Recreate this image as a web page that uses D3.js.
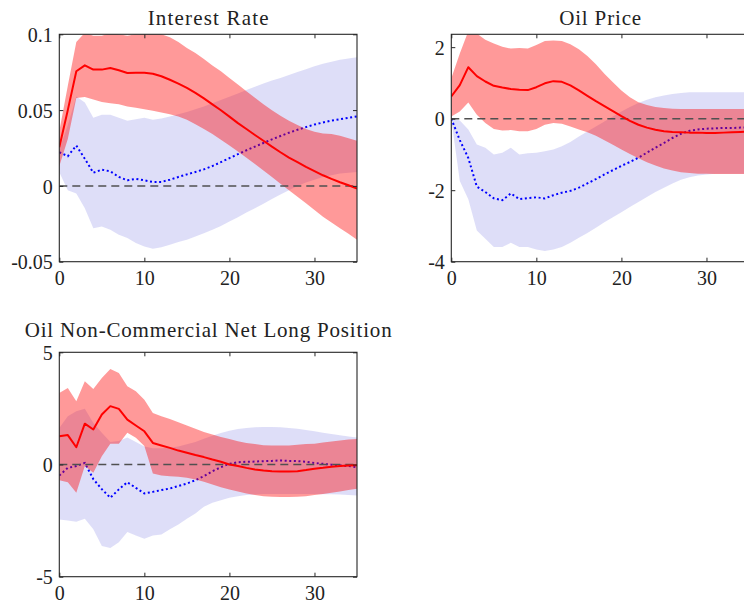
<!DOCTYPE html>
<html>
<head>
<meta charset="utf-8">
<script src="https://cdn.jsdelivr.net/npm/d3@7"></script>
<style>
  html, body { margin: 0; padding: 0; background: #fff; }
  svg { display: block; }
</style>
</head>
<body>
<svg id="chart" width="744" height="607"></svg>
<script>
// ---------------- DATA ----------------
const horizons = [0,1,2,3,4,5,6,7,8,9,10,11,12,13,14,15,16,17,18,19,20,21,22,23,24,25,26,27,28,29,30,31,32,33,34,35];
const xTickValues = [0, 10, 20, 30];
const xTickLabels = ["0", "10", "20", "30"];

const panelTitles = ["Interest Rate", "Oil Price", "Oil Non-Commercial Net Long Position"];

// Interest Rate
const irRedMedian = [0.0255,0.05,0.0756,0.0795,0.0767,0.0767,0.0778,0.0763,0.0745,0.0747,0.0747,0.074,0.0723,0.070,0.0675,0.0647,0.0614,0.0577,0.0538,0.0499,0.0457,0.0414,0.0375,0.0336,0.0298,0.0259,0.0222,0.0187,0.0157,0.0126,0.0098,0.007,0.0046,0.0024,0.0004,-0.0017];
const irRedUpper = [0.036,0.066,0.095,0.101,0.099,0.099,0.101,0.1,0.099,0.1,0.1,0.101,0.1,0.098,0.095,0.091,0.0876,0.0837,0.0795,0.0756,0.0712,0.0669,0.0625,0.0582,0.0538,0.0499,0.0462,0.0429,0.0401,0.0375,0.0357,0.0346,0.0342,0.0331,0.0314,0.0298];
const irRedLower = [0.013,0.031,0.058,0.0586,0.057,0.0553,0.0545,0.0538,0.0523,0.0516,0.0505,0.0495,0.0484,0.0473,0.0458,0.0436,0.0407,0.0375,0.0342,0.0305,0.0266,0.0227,0.0185,0.0144,0.0102,0.0059,0.0015,-0.0028,-0.0072,-0.0115,-0.0159,-0.0203,-0.0242,-0.0279,-0.0316,-0.0355];
const irBlueMedian = [0.0222,0.0196,0.0266,0.0179,0.0087,0.0107,0.0096,0.0059,0.0037,0.0046,0.0037,0.0026,0.0026,0.0041,0.0059,0.0076,0.0092,0.0109,0.0131,0.0157,0.0183,0.0209,0.0235,0.0259,0.0283,0.0307,0.0329,0.0351,0.037,0.0388,0.0405,0.0418,0.0431,0.044,0.0449,0.0458];
const irBlueUpper = [0.024,0.04,0.059,0.055,0.045,0.047,0.047,0.045,0.043,0.044,0.045,0.0436,0.0444,0.0458,0.0473,0.0488,0.0505,0.0523,0.0545,0.0566,0.0588,0.061,0.0632,0.0654,0.0675,0.0695,0.0712,0.0732,0.0752,0.0769,0.0789,0.0806,0.0819,0.0832,0.0841,0.0848];
const irBlueLower = [0.009,-0.0028,-0.005,-0.0148,-0.0279,-0.0268,-0.029,-0.0322,-0.0344,-0.0377,-0.0399,-0.0414,-0.0405,-0.0388,-0.037,-0.0355,-0.0333,-0.0312,-0.029,-0.0264,-0.0235,-0.0207,-0.0176,-0.0148,-0.0118,-0.0087,-0.0057,-0.0028,0,0.0022,0.0041,0.0059,0.007,0.0081,0.0087,0.0092];
const irYDomain = [-0.05, 0.1];
const irYTicks = [-0.05, 0, 0.05, 0.1];
const irYLabels = ["-0.05", "0", "0.05", "0.1"];

// Oil Price
const oilRedMedian = [0.62,0.94,1.44,1.19,1.04,0.92,0.87,0.83,0.81,0.80,0.88,0.99,1.05,1.03,0.93,0.79,0.64,0.49,0.35,0.21,0.07,-0.06,-0.17,-0.25,-0.31,-0.35,-0.37,-0.38,-0.39,-0.39,-0.4,-0.4,-0.39,-0.38,-0.37,-0.36];
const oilRedUpper = [1.13,1.82,2.45,2.38,2.21,2.1,2.01,1.96,1.98,1.96,2.06,2.17,2.19,2.17,2.08,1.94,1.75,1.52,1.26,1.02,0.79,0.6,0.46,0.38,0.33,0.3,0.28,0.27,0.27,0.27,0.27,0.27,0.27,0.27,0.27,0.27];
const oilRedLower = [0.06,0.2,0.45,0.11,-0.12,-0.29,-0.33,-0.32,-0.35,-0.35,-0.29,-0.17,-0.12,-0.14,-0.22,-0.3,-0.38,-0.48,-0.6,-0.73,-0.86,-0.99,-1.11,-1.22,-1.31,-1.39,-1.45,-1.5,-1.52,-1.54,-1.54,-1.55,-1.55,-1.55,-1.55,-1.55];
const oilBlueMedian = [0,-0.6,-1.1,-1.9,-2.05,-2.23,-2.28,-2.09,-2.25,-2.22,-2.2,-2.23,-2.14,-2.07,-2.02,-1.93,-1.81,-1.69,-1.56,-1.44,-1.32,-1.21,-1.09,-0.95,-0.81,-0.68,-0.54,-0.42,-0.34,-0.3,-0.28,-0.27,-0.26,-0.26,-0.25,-0.25];
const oilBlueUpper = [0.02,-0.05,-0.3,-0.72,-0.81,-1.0,-0.95,-0.81,-1.0,-0.97,-0.95,-0.91,-0.86,-0.77,-0.65,-0.5,-0.36,-0.22,-0.08,0.06,0.2,0.33,0.44,0.53,0.6,0.65,0.69,0.72,0.74,0.74,0.74,0.74,0.74,0.74,0.74,0.74];
const oilBlueLower = [-0.02,-1.74,-2.25,-3.13,-3.36,-3.59,-3.59,-3.47,-3.59,-3.59,-3.66,-3.7,-3.66,-3.59,-3.47,-3.33,-3.2,-3.05,-2.9,-2.76,-2.62,-2.47,-2.33,-2.19,-2.05,-1.93,-1.81,-1.71,-1.64,-1.59,-1.56,-1.54,-1.54,-1.54,-1.54,-1.54];
const oilYDomain = [-4, 2.36];
const oilYTicks = [-4, -2, 0, 2];
const oilYLabels = ["-4", "-2", "0", "2"];

// Oil Non-Commercial Net Long Position
const ncRedMedian = [1.26,1.31,0.77,1.82,1.56,2.23,2.6,2.48,2.0,1.74,1.48,0.96,0.85,0.74,0.62,0.52,0.42,0.33,0.22,0.12,0,-0.07,-0.15,-0.22,-0.27,-0.3,-0.31,-0.31,-0.3,-0.25,-0.19,-0.15,-0.1,-0.07,-0.04,-0.03];
const ncRedUpper = [3.19,3.41,2.82,3.71,3.37,3.86,4.26,4.08,3.49,3.26,2.89,2.3,2.15,2.03,1.88,1.74,1.59,1.45,1.34,1.23,1.14,1.04,0.96,0.91,0.86,0.85,0.85,0.85,0.88,0.91,0.93,0.98,1.02,1.07,1.11,1.14];
const ncRedLower = [-0.7,-0.79,-1.26,-0.07,-0.37,0.37,0.93,0.93,1.41,1.19,0.82,-0.4,-0.49,-0.52,-0.55,-0.59,-0.67,-0.77,-0.89,-1.01,-1.11,-1.2,-1.29,-1.36,-1.41,-1.44,-1.45,-1.45,-1.44,-1.41,-1.36,-1.32,-1.26,-1.2,-1.14,-1.08];
const ncBlueMedian = [-0.49,-0.15,-0.07,0.07,-0.65,-1.1,-1.48,-1.11,-0.79,-1.04,-1.29,-1.22,-1.14,-1.07,-0.96,-0.85,-0.7,-0.52,-0.3,-0.12,0.03,0.1,0.12,0.13,0.15,0.16,0.18,0.16,0.15,0.12,0.07,0.03,-0.01,-0.04,-0.07,-0.12];
const ncBlueUpper = [1.63,2.15,2.37,2.48,1.85,1.41,1.0,1.05,1.2,1.0,0.8,0.72,0.72,0.75,0.8,0.9,1.0,1.15,1.28,1.4,1.5,1.58,1.63,1.66,1.67,1.67,1.66,1.63,1.59,1.54,1.48,1.42,1.36,1.3,1.25,1.2];
const ncBlueLower = [-2.45,-2.49,-2.55,-2.42,-2.89,-3.63,-3.72,-3.46,-3.01,-3.16,-3.31,-3.16,-3.12,-2.89,-2.67,-2.42,-2.18,-1.88,-1.71,-1.59,-1.48,-1.41,-1.36,-1.34,-1.32,-1.32,-1.32,-1.32,-1.32,-1.32,-1.32,-1.33,-1.33,-1.34,-1.36,-1.38];
const ncYDomain = [-5, 5];
const ncYTicks = [-5, 0, 5];
const ncYLabels = ["-5", "0", "5"];

// ---------------- DRAWING ----------------
const svg = d3.select("#chart");
svg.append("rect").attr("width", 744).attr("height", 607).attr("fill", "#fff");

const FONT = "Liberation Serif, Times New Roman, serif";
const AXIS_COLOR = "#262626";
const TEXT_COLOR = "#222";
const TICK_FONT = 20;
const TITLE_FONT = 21;

function drawPanel(idx, box, title, titleLen, yDomain, yTicks, yLabels, s) {
  const x = d3.scaleLinear().domain([0, 35]).range([box.left, box.right]);
  const y = d3.scaleLinear().domain(yDomain).range([box.bottom, box.top]);
  const g = svg.append("g");

  const clipId = "clip" + idx;
  svg.append("clipPath").attr("id", clipId)
    .append("rect")
    .attr("x", box.left).attr("y", box.top)
    .attr("width", box.right - box.left).attr("height", box.bottom - box.top);

  const plot = g.append("g").attr("clip-path", `url(#${clipId})`);

  const rows = horizons.map((h, i) => ({
    h, rm: s.redMedian[i], ru: s.redUpper[i], rl: s.redLower[i],
    bm: s.blueMedian[i], bu: s.blueUpper[i], bl: s.blueLower[i]
  }));

  const blueArea = d3.area().x(d => x(d.h)).y0(d => y(d.bl)).y1(d => y(d.bu));
  const redArea = d3.area().x(d => x(d.h)).y0(d => y(d.rl)).y1(d => y(d.ru));
  const blueLine = d3.line().x(d => x(d.h)).y(d => y(d.bm));
  const redLine = d3.line().x(d => x(d.h)).y(d => y(d.rm));

  plot.append("path").datum(rows).attr("d", blueArea)
    .attr("fill", "#6464dc").attr("fill-opacity", 0.21).attr("stroke", "none");
  plot.append("path").datum(rows).attr("d", blueLine)
    .attr("fill", "none").attr("stroke", "#0000ff").attr("stroke-width", 2)
    .attr("stroke-dasharray", "2,2.6");
  plot.append("path").datum(rows).attr("d", redArea)
    .attr("fill", "#ff0000").attr("fill-opacity", 0.4).attr("stroke", "none");
  plot.append("line")
    .attr("x1", x(0)).attr("x2", x(35)).attr("y1", y(0)).attr("y2", y(0))
    .attr("stroke", "#505050").attr("stroke-width", 1.5).attr("stroke-dasharray", "8,5");
  plot.append("path").datum(rows).attr("d", redLine)
    .attr("fill", "none").attr("stroke", "#ff0000").attr("stroke-width", 2)
    .attr("stroke-linejoin", "round");

  // Axes (inward ticks on all four sides)
  const tick = 4;
  const bottomAxis = d3.axisBottom(x).tickValues(xTickValues)
    .tickFormat((d, i) => xTickLabels[i]).tickSizeInner(-tick).tickSizeOuter(0).tickPadding(0);
  const topAxis = d3.axisTop(x).tickValues(xTickValues).tickFormat("").tickSizeInner(-tick).tickSizeOuter(0);
  const leftAxis = d3.axisLeft(y).tickValues(yTicks)
    .tickFormat((d, i) => yLabels[i]).tickSizeInner(-tick).tickSizeOuter(0).tickPadding(0);
  const rightAxis = d3.axisRight(y).tickValues(yTicks).tickFormat("").tickSizeInner(-tick).tickSizeOuter(0);

  const gb = g.append("g").attr("transform", `translate(0,${box.bottom})`).call(bottomAxis);
  const gt = g.append("g").attr("transform", `translate(0,${box.top})`).call(topAxis);
  const gl = g.append("g").attr("transform", `translate(${box.left},0)`).call(leftAxis);
  const gr = g.append("g").attr("transform", `translate(${box.right},0)`).call(rightAxis);

  [gb, gt, gl, gr].forEach(a => {
    a.attr("font-family", FONT).attr("font-size", TICK_FONT);
    a.select(".domain").remove();
    a.selectAll(".tick line").attr("stroke", AXIS_COLOR).attr("stroke-width", 1);
  });
  gb.selectAll(".tick text")
    .attr("y", 23.5).attr("dy", null).attr("fill", TEXT_COLOR);
  gl.selectAll(".tick text")
    .attr("x", -6.5).attr("dy", "0.36em").attr("fill", TEXT_COLOR);

  // box
  g.append("rect")
    .attr("x", box.left).attr("y", box.top)
    .attr("width", box.right - box.left).attr("height", box.bottom - box.top)
    .attr("fill", "none").attr("stroke", AXIS_COLOR).attr("stroke-width", 1.1);

  // title
  g.append("text")
    .attr("x", (box.left + box.right) / 2).attr("y", box.titleY)
    .attr("text-anchor", "middle")
    .attr("font-family", FONT).attr("font-size", TITLE_FONT).attr("fill", TEXT_COLOR)
    .attr("textLength", titleLen).attr("lengthAdjust", "spacing")
    .text(title);
}

drawPanel(0, {left: 59.3, right: 357, top: 34.3, bottom: 261.7, titleY: 25}, panelTitles[0], 121,
  irYDomain, irYTicks, irYLabels,
  {redMedian: irRedMedian, redUpper: irRedUpper, redLower: irRedLower,
   blueMedian: irBlueMedian, blueUpper: irBlueUpper, blueLower: irBlueLower});

drawPanel(1, {left: 451.3, right: 749, top: 34.3, bottom: 261.7, titleY: 25}, panelTitles[1], 82,
  oilYDomain, oilYTicks, oilYLabels,
  {redMedian: oilRedMedian, redUpper: oilRedUpper, redLower: oilRedLower,
   blueMedian: oilBlueMedian, blueUpper: oilBlueUpper, blueLower: oilBlueLower});

drawPanel(2, {left: 59.3, right: 357, top: 352.3, bottom: 576.7, titleY: 337}, panelTitles[2], 367,
  ncYDomain, ncYTicks, ncYLabels,
  {redMedian: ncRedMedian, redUpper: ncRedUpper, redLower: ncRedLower,
   blueMedian: ncBlueMedian, blueUpper: ncBlueUpper, blueLower: ncBlueLower});
</script>
</body>
</html>
